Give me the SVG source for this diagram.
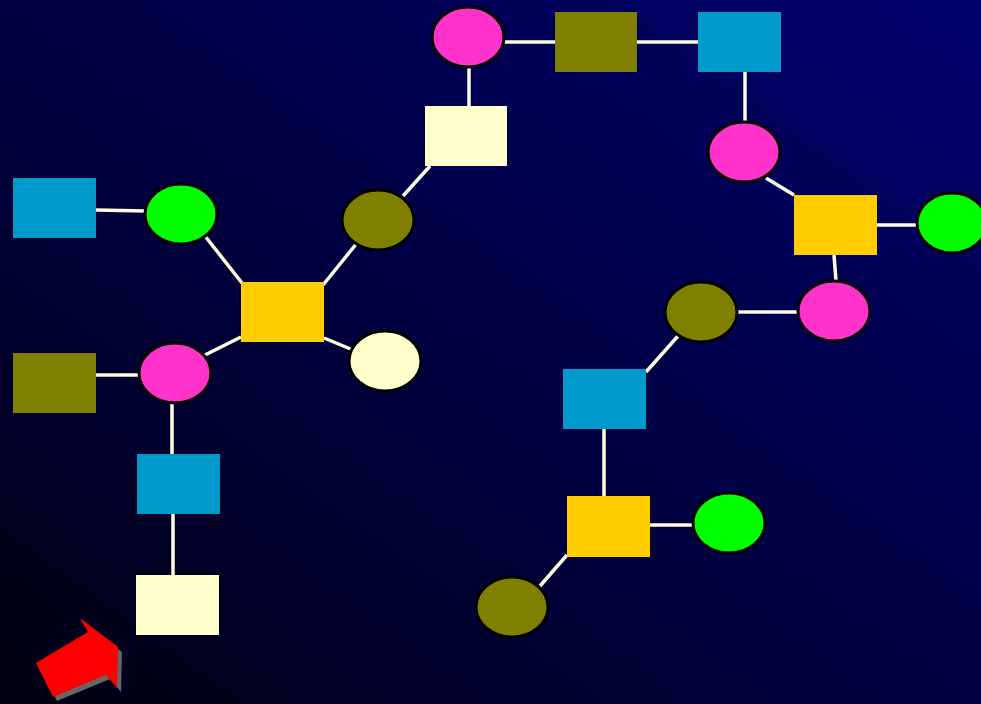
<svg xmlns="http://www.w3.org/2000/svg" width="981" height="704" viewBox="0 0 981 704">
<defs>
<linearGradient id="bg" x1="1" y1="0" x2="0" y2="1">
<stop offset="0" stop-color="#00006c"/>
<stop offset="0.5" stop-color="#000044"/>
<stop offset="1" stop-color="#000012"/>
</linearGradient>
<style>
.c line{stroke:#fffbe0;stroke-width:3.5}
.e{stroke:#000;stroke-width:3}
.blue{fill:#0099cc}.olive{fill:#808000}.cream{fill:#ffffcc}.yellow{fill:#ffcc00}.pink{fill:#ff33cc}.green{fill:#00ff00}
</style>
</defs>
<rect width="981" height="704" fill="url(#bg)"/>
<g id="connectors" class="c">
<line x1="96" y1="210" x2="146" y2="211"/>
<line x1="205" y1="236" x2="242" y2="283"/>
<line x1="323" y1="285" x2="357" y2="243"/>
<line x1="324" y1="338" x2="353" y2="350"/>
<line x1="241" y1="337" x2="205" y2="355"/>
<line x1="96" y1="375" x2="140" y2="375"/>
<line x1="172" y1="403" x2="172" y2="454"/>
<line x1="173" y1="514" x2="173" y2="575"/>
<line x1="403" y1="196" x2="430" y2="166"/>
<line x1="469" y1="106" x2="469" y2="66"/>
<line x1="503" y1="42" x2="555" y2="42"/>
<line x1="637" y1="42" x2="698" y2="42"/>
<line x1="745" y1="72" x2="745" y2="122"/>
<line x1="766" y1="178" x2="794" y2="195"/>
<line x1="877" y1="225" x2="918" y2="225"/>
<line x1="834" y1="255" x2="836" y2="281"/>
<line x1="798" y1="312" x2="737" y2="312"/>
<line x1="678" y1="336" x2="646" y2="372"/>
<line x1="604" y1="429" x2="604" y2="496"/>
<line x1="650" y1="525" x2="693" y2="525"/>
<line x1="567" y1="555" x2="540" y2="586"/>
</g>
<g id="n-blue1"><rect class="blue" x="13" y="178" width="83" height="60"/></g>
<g id="n-olive1"><rect class="olive" x="13" y="353" width="83" height="60"/></g>
<g id="n-blue2"><rect class="blue" x="137" y="454" width="83" height="60"/></g>
<g id="n-cream1"><rect class="cream" x="136" y="575" width="83" height="60"/></g>
<g id="n-yellow1"><rect class="yellow" x="241" y="282" width="83" height="60"/></g>
<g id="n-cream2"><rect class="cream" x="425" y="106" width="82" height="60"/></g>
<g id="n-olive2"><rect class="olive" x="555" y="12" width="82" height="60"/></g>
<g id="n-blue3"><rect class="blue" x="698" y="12" width="83" height="60"/></g>
<g id="n-yellow2"><rect class="yellow" x="794" y="195" width="83" height="60"/></g>
<g id="n-blue4"><rect class="blue" x="563" y="369" width="83" height="60"/></g>
<g id="n-yellow3"><rect class="yellow" x="567" y="496" width="83" height="61"/></g>
<g id="e-green1"><ellipse class="e green" cx="181" cy="214" rx="36" ry="30"/></g>
<g id="e-pink1"><ellipse class="e pink" cx="175" cy="373" rx="36" ry="30"/></g>
<g id="e-olive1"><ellipse class="e olive" cx="378" cy="220" rx="36" ry="30"/></g>
<g id="e-cream"><ellipse class="e cream" cx="385" cy="361" rx="36" ry="30"/></g>
<g id="e-pink2"><ellipse class="e pink" cx="468" cy="37" rx="36" ry="30"/></g>
<g id="e-pink3"><ellipse class="e pink" cx="744" cy="152" rx="36" ry="30"/></g>
<g id="e-green2"><ellipse class="e green" cx="952" cy="223" rx="35" ry="30"/></g>
<g id="e-pink4"><ellipse class="e pink" cx="834" cy="311" rx="36" ry="30"/></g>
<g id="e-olive2"><ellipse class="e olive" cx="701" cy="312" rx="36" ry="30"/></g>
<g id="e-green3"><ellipse class="e green" cx="729" cy="523" rx="36" ry="30"/></g>
<g id="e-olive3"><ellipse class="e olive" cx="512" cy="607" rx="36" ry="30"/></g>
<g id="arrow">
<polygon points="40,667 92,636 84,622 122,652 121,692 110,679 57,701" fill="#666666"/>
<polygon points="36,663 88,632 80,618 118,647 117,688 106,675 53,697" fill="#ff0000"/>
</g>
</svg>
